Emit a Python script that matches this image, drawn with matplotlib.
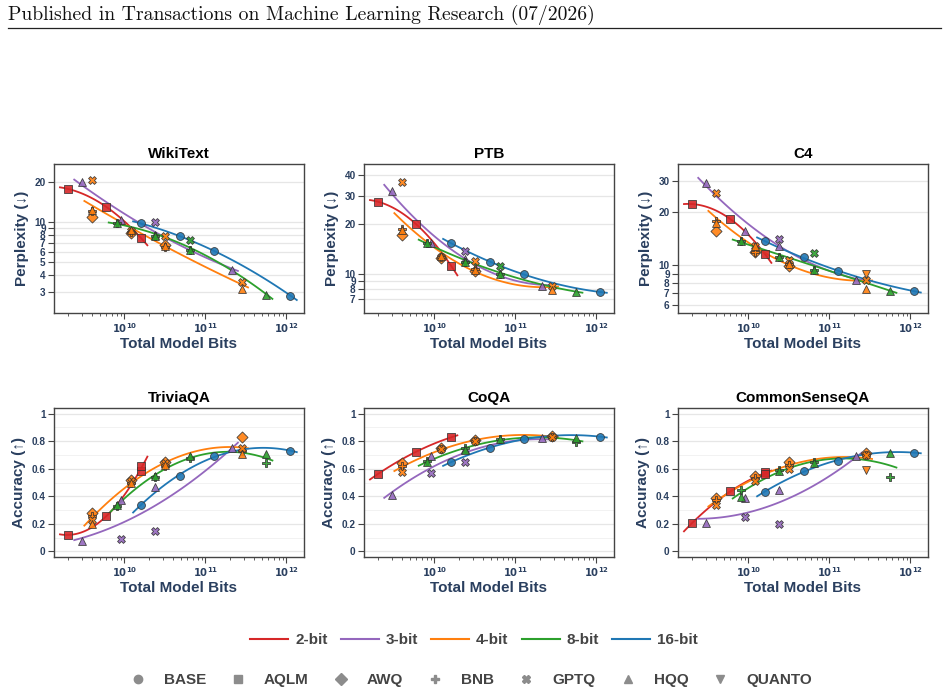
import numpy as np
import matplotlib
matplotlib.use("Agg")
import matplotlib.pyplot as plt
from matplotlib.lines import Line2D
from matplotlib.ticker import FixedLocator, NullFormatter, LogLocator

plt.rcParams['font.family'] = ['Liberation Sans', 'DejaVu Sans']

nan = np.nan

# parameter count of the four model sizes (1B, 3B, 8B, 70B)
model_params = [1e9, 3e9, 8e9, 70e9]

bit_widths = [2, 3, 4, 8, 16]
bit_labels = ["2-bit", "3-bit", "4-bit", "8-bit", "16-bit"]
bit_colors = {2: "#d62728", 3: "#9467bd", 4: "#ff7f0e", 8: "#2ca02c", 16: "#1f77b4"}

methods = ["BASE", "AQLM", "AWQ", "BNB", "GPTQ", "HQQ", "QUANTO"]
method_markers = {"BASE": "o", "AQLM": "s", "AWQ": "D", "BNB": "P",
                  "GPTQ": "X", "HQQ": "^", "QUANTO": "v"}

# (method, bits, values for 1B / 3B / 8B / 70B)
wikitext = [
    ("BASE", 16, [9.8, 7.8, 6.1, 2.8]),
    ("AQLM", 2, [17.8, 13.0, 7.6, nan]),
    ("HQQ", 3, [20.0, 10.3, 8.0, 4.4]),
    ("GPTQ", 3, [nan, nan, 10.0, nan]),
    ("GPTQ", 4, [20.8, 8.6, 7.8, 3.55]),
    ("AWQ", 4, [10.9, 8.3, 6.7, nan]),
    ("BNB", 4, [12.2, 8.5, 6.5, nan]),
    ("HQQ", 4, [12.4, 8.8, 6.6, 3.16]),
    ("BNB", 8, [9.9, 7.85, 6.2, nan]),
    ("GPTQ", 8, [nan, nan, 7.4, nan]),
    ("HQQ", 8, [9.8, 7.8, 6.2, 2.85]),
]

ptb = [
    ("BASE", 16, [15.4, 11.8, 9.9, 7.7]),
    ("AQLM", 2, [27.6, 20.0, 11.2, nan]),
    ("HQQ", 3, [32.2, 15.5, 12.2, 8.4]),
    ("GPTQ", 3, [nan, nan, 13.8, nan]),
    ("GPTQ", 4, [36.2, 12.7, 11.9, 8.4]),
    ("AWQ", 4, [17.2, 12.4, 10.3, nan]),
    ("BNB", 4, [18.9, 12.6, 10.6, nan]),
    ("HQQ", 4, [18.5, 12.8, 10.5, 7.9]),
    ("BNB", 8, [15.5, 11.8, 9.9, nan]),
    ("GPTQ", 8, [nan, nan, 11.1, nan]),
    ("HQQ", 8, [15.4, 11.7, 9.9, 7.7]),
]

c4 = [
    ("BASE", 16, [13.7, 11.1, 9.3, 7.15]),
    ("AQLM", 2, [22.3, 18.3, 11.6, nan]),
    ("HQQ", 3, [29.5, 15.7, 12.9, 8.3]),
    ("GPTQ", 3, [nan, nan, 14.2, nan]),
    ("GPTQ", 4, [25.6, 12.9, 10.8, 8.25]),
    ("AWQ", 4, [15.7, 11.9, 9.9, nan]),
    ("BNB", 4, [17.8, 12.0, 10.2, nan]),
    ("HQQ", 4, [17.5, 12.9, 10.2, 7.4]),
    ("QUANTO", 4, [nan, nan, nan, 8.9]),
    ("BNB", 8, [13.7, 11.2, 9.4, nan]),
    ("GPTQ", 8, [nan, nan, 11.7, nan]),
    ("HQQ", 8, [13.7, 11.2, 9.4, 7.15]),
]

triviaqa = [
    ("BASE", 16, [0.34, 0.55, 0.69, 0.73]),
    ("AQLM", 2, [0.12, 0.257, 0.585, nan]),
    ("AQLM", 2, [nan, nan, 0.616, nan]),
    ("HQQ", 3, [0.077, 0.376, 0.47, 0.753]),
    ("GPTQ", 3, [nan, 0.089, 0.149, nan]),
    ("AWQ", 4, [0.28, 0.52, 0.65, 0.832]),
    ("BNB", 4, [0.26, 0.50, 0.62, 0.73]),
    ("GPTQ", 4, [0.23, 0.51, 0.64, 0.753]),
    ("HQQ", 4, [0.20, 0.50, 0.63, 0.705]),
    ("BNB", 8, [0.33, 0.54, 0.68, 0.64]),
    ("HQQ", 8, [0.34, 0.55, 0.69, 0.71]),
]

coqa = [
    ("BASE", 16, [0.647, 0.753, 0.813, 0.832]),
    ("AQLM", 2, [0.561, 0.724, 0.827, nan]),
    ("HQQ", 3, [0.412, 0.695, 0.74, 0.82]),
    ("GPTQ", 3, [nan, 0.568, 0.652, nan]),
    ("AWQ", 4, [0.64, 0.75, 0.81, 0.84]),
    ("BNB", 4, [0.62, 0.74, 0.80, 0.83]),
    ("GPTQ", 4, [0.575, 0.74, 0.80, 0.83]),
    ("BNB", 8, [0.657, 0.748, 0.813, 0.79]),
    ("HQQ", 8, [0.645, 0.736, 0.813, 0.82]),
]

commonsenseqa = [
    ("BASE", 16, [0.432, 0.585, 0.657, 0.717]),
    ("AQLM", 2, [0.204, 0.436, 0.576, nan]),
    ("AQLM", 2, [nan, nan, 0.561, nan]),
    ("HQQ", 3, [0.209, 0.388, 0.448, 0.69]),
    ("GPTQ", 3, [nan, 0.25, 0.2, nan]),
    ("AWQ", 4, [0.388, 0.55, 0.647, 0.717]),
    ("BNB", 4, [0.37, 0.53, 0.628, 0.70]),
    ("GPTQ", 4, [0.34, 0.51, 0.60, 0.70]),
    ("QUANTO", 4, [nan, nan, nan, 0.59]),
    ("BNB", 8, [0.448, 0.592, 0.652, 0.537]),
    ("HQQ", 8, [0.393, 0.58, 0.64, 0.712]),
]

panels = [
    ("WikiText", wikitext, "ppl", (2.07, 27.4), [3, 4, 5, 6, 7, 8, 9, 10, 20]),
    ("PTB", ptb, "ppl", (5.73, 47.0), [7, 8, 9, 10, 20, 30, 40]),
    ("C4", c4, "ppl", (5.38, 37.6), [6, 7, 8, 9, 10, 20, 30]),
    ("TriviaQA", triviaqa, "acc", (-0.04, 1.04), [0, 0.2, 0.4, 0.6, 0.8, 1]),
    ("CoQA", coqa, "acc", (-0.04, 1.04), [0, 0.2, 0.4, 0.6, 0.8, 1]),
    ("CommonSenseQA", commonsenseqa, "acc", (-0.04, 1.04), [0, 0.2, 0.4, 0.6, 0.8, 1]),
]

navy = "#2a3f5f"
frame = "#444444"

fig = plt.figure(figsize=(9.48, 6.94), dpi=100)

# paper header
fig.text(8 / 948, 1 - 15 / 694, "Published in Transactions on Machine Learning Research (07/2026)",
         fontfamily="cmr10", fontsize=14.2, va="center", ha="left", color="#111111")
fig.add_artist(Line2D([8 / 948, 941 / 948], [1 - 28 / 694, 1 - 28 / 694], color="#222222", lw=0.9))

col_left = [54, 364, 678]
row_top = [164, 408]
ax_w, ax_h = 250, 149

for i, (title, rows, kind, ylim, yticks) in enumerate(panels):
    r, c = divmod(i, 3)
    ax = fig.add_axes([col_left[c] / 948, 1 - (row_top[r] + ax_h) / 694, ax_w / 948, ax_h / 694])
    ax.set_xscale("log")
    if kind == "ppl":
        ax.set_yscale("log")

    # fitted trend per bit width
    for b in bit_widths:
        xs, ys = [], []
        for m, bits, vals in rows:
            if bits != b:
                continue
            for p, v in zip(model_params, vals):
                if not np.isnan(v):
                    xs.append(p * bits)
                    ys.append(v)
        xs = np.log10(xs)
        ys = np.array(ys)
        if kind == "ppl":
            ys = np.log10(ys)
        coef = np.polyfit(xs, ys, 2)
        xx = np.linspace(xs.min() + np.log10(0.8), xs.max() + np.log10(1.2), 100)
        yy = np.polyval(coef, xx)
        if kind == "ppl":
            yy = 10 ** yy
        ax.plot(10 ** xx, yy, color=bit_colors[b], lw=1.3, zorder=2)

    # individual points
    for m, bits, vals in rows:
        for p, v in zip(model_params, vals):
            if np.isnan(v):
                continue
            ax.scatter(p * bits, v, marker=method_markers[m], s=32, color=bit_colors[bits],
                       edgecolor="#333333", linewidth=0.6, alpha=0.9, zorder=3)

    ax.set_xlim(1.35e9, 1.65e12)
    ax.set_ylim(*ylim)
    ax.yaxis.set_major_locator(FixedLocator(yticks))
    ax.yaxis.set_minor_locator(FixedLocator([]))
    ax.yaxis.set_minor_formatter(NullFormatter())
    if kind == "ppl":
        ax.set_yticklabels([str(t) for t in yticks])
        ax.set_ylabel("Perplexity (↓)", fontsize=11, fontweight="bold", color=navy, labelpad=4)
    else:
        ax.set_yticklabels(["0", "0.2", "0.4", "0.6", "0.8", "1"])
        for t in np.arange(0.1, 1.0, 0.2):
            ax.axhline(t, color="#f2f2f2", lw=0.7, zorder=0)
        ax.set_ylabel("Accuracy (↑)", fontsize=11, fontweight="bold", color=navy, labelpad=4)
    ax.grid(axis="y", which="major", color="#e6e6e6", lw=0.9, zorder=0)
    ax.set_axisbelow(True)

    ax.xaxis.set_major_locator(FixedLocator([1e10, 1e11, 1e12]))
    ax.xaxis.set_minor_locator(LogLocator(base=10, subs=np.arange(2, 10), numticks=20))
    ax.xaxis.set_minor_formatter(NullFormatter())
    ax.set_xticklabels([r"$\mathbf{10^{10}}$", r"$\mathbf{10^{11}}$", r"$\mathbf{10^{12}}$"])
    ax.set_xlabel("Total Model Bits", fontsize=11, fontweight="bold", color=navy, labelpad=1)
    ax.set_title(title, fontsize=11, fontweight="bold", color="black", pad=4)

    ax.tick_params(axis="both", which="major", direction="out", length=4, width=0.8,
                   color=frame, labelsize=7.2, labelcolor=navy, pad=2)
    ax.tick_params(axis="x", which="minor", direction="out", length=2.5, width=0.6, color=frame)
    for lbl in ax.get_yticklabels():
        lbl.set_fontweight("bold")
    for sp in ax.spines.values():
        sp.set_color(frame)
        sp.set_linewidth(1.0)

# legends
line_handles = [Line2D([0], [0], color=bit_colors[b], lw=1.5) for b in bit_widths]
leg1 = fig.legend(line_handles, bit_labels, loc="center", bbox_to_anchor=(0.5, 1 - 640 / 694),
                  ncol=5, frameon=False, handlelength=2.5, handletextpad=0.45, columnspacing=0.85,
                  prop={"weight": "bold", "size": 11})
for t in leg1.get_texts():
    t.set_color("#444444")

marker_handles = [Line2D([0], [0], marker=method_markers[m], color="#8c8c8c", linestyle="none",
                         markersize=6) for m in methods]
leg2 = fig.legend(marker_handles, methods, loc="center", bbox_to_anchor=(0.497, 1 - 680 / 694),
                  ncol=7, frameon=False, handlelength=1.0, handletextpad=1.2, columnspacing=1.6,
                  prop={"weight": "bold", "size": 11})
for t in leg2.get_texts():
    t.set_color("#444444")

fig.savefig("out.png", dpi=100)
